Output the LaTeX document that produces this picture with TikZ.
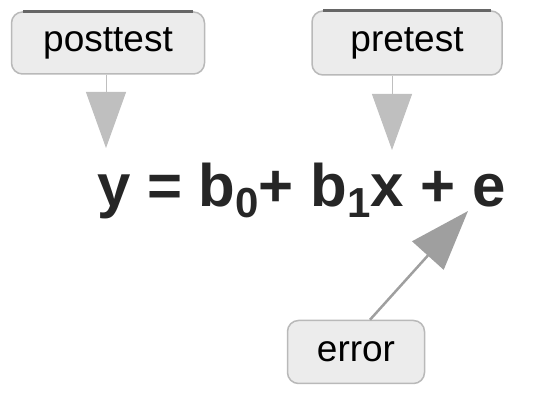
\documentclass[tikz,border=0pt]{standalone}
\usepackage{fontspec}
\setmainfont{Liberation Sans}
\usetikzlibrary{arrows.meta,calc}

\begin{document}
\begin{tikzpicture}[x=1pt,y=-1pt,
  lbl/.style={draw=gray!55, line width=1.5pt, fill=gray!15, rounded corners=11pt, inner sep=0pt, font=\fontsize{37}{40}\selectfont},
  strip/.style={draw=gray!80!black, line width=3pt},
  pointer/.style={draw=gray!35, line width=1pt, -{Triangle[length=56pt,width=40pt]}, color=gray!50},
  errarrow/.style={draw=gray!70, line width=2.5pt, -{Triangle[length=60pt,width=42pt]}, color=gray!75}]
\useasboundingbox (0,0) rectangle (557,411);
\node[lbl, minimum width=193pt, minimum height=62pt] (post) at (108,43) {posttest};
\node[lbl, minimum width=190pt, minimum height=64pt] (pre) at (407,43) {pretest};
\node[lbl, minimum width=137pt, minimum height=63pt] (err) at (356,352) {error};
\draw[strip] ($(post.north west)+(12,0)$) -- ($(post.north east)+(-12,0)$);
\draw[strip] ($(pre.north west)+(12,0)$) -- ($(pre.north east)+(-12,0)$);
\node[anchor=base west, inner sep=0pt, text=black!85, font=\fontsize{60}{60}\selectfont\bfseries] (eq) at (97,207)
  {y = b\raisebox{-11pt}{\fontsize{42}{42}\selectfont 0}+ b\raisebox{-11pt}{\fontsize{42}{42}\selectfont 1}x + e};
\coordinate (ytop) at (106,148);
\coordinate (xtop) at (392,150);
\coordinate (etip) at (468,211);
\draw[pointer] (post.south -| ytop) -- (ytop);
\draw[pointer] (pre.south -| xtop) -- (xtop);
\draw[errarrow] ($(err.north)+(14,0)$) -- (etip);
\end{tikzpicture}
\end{document}
